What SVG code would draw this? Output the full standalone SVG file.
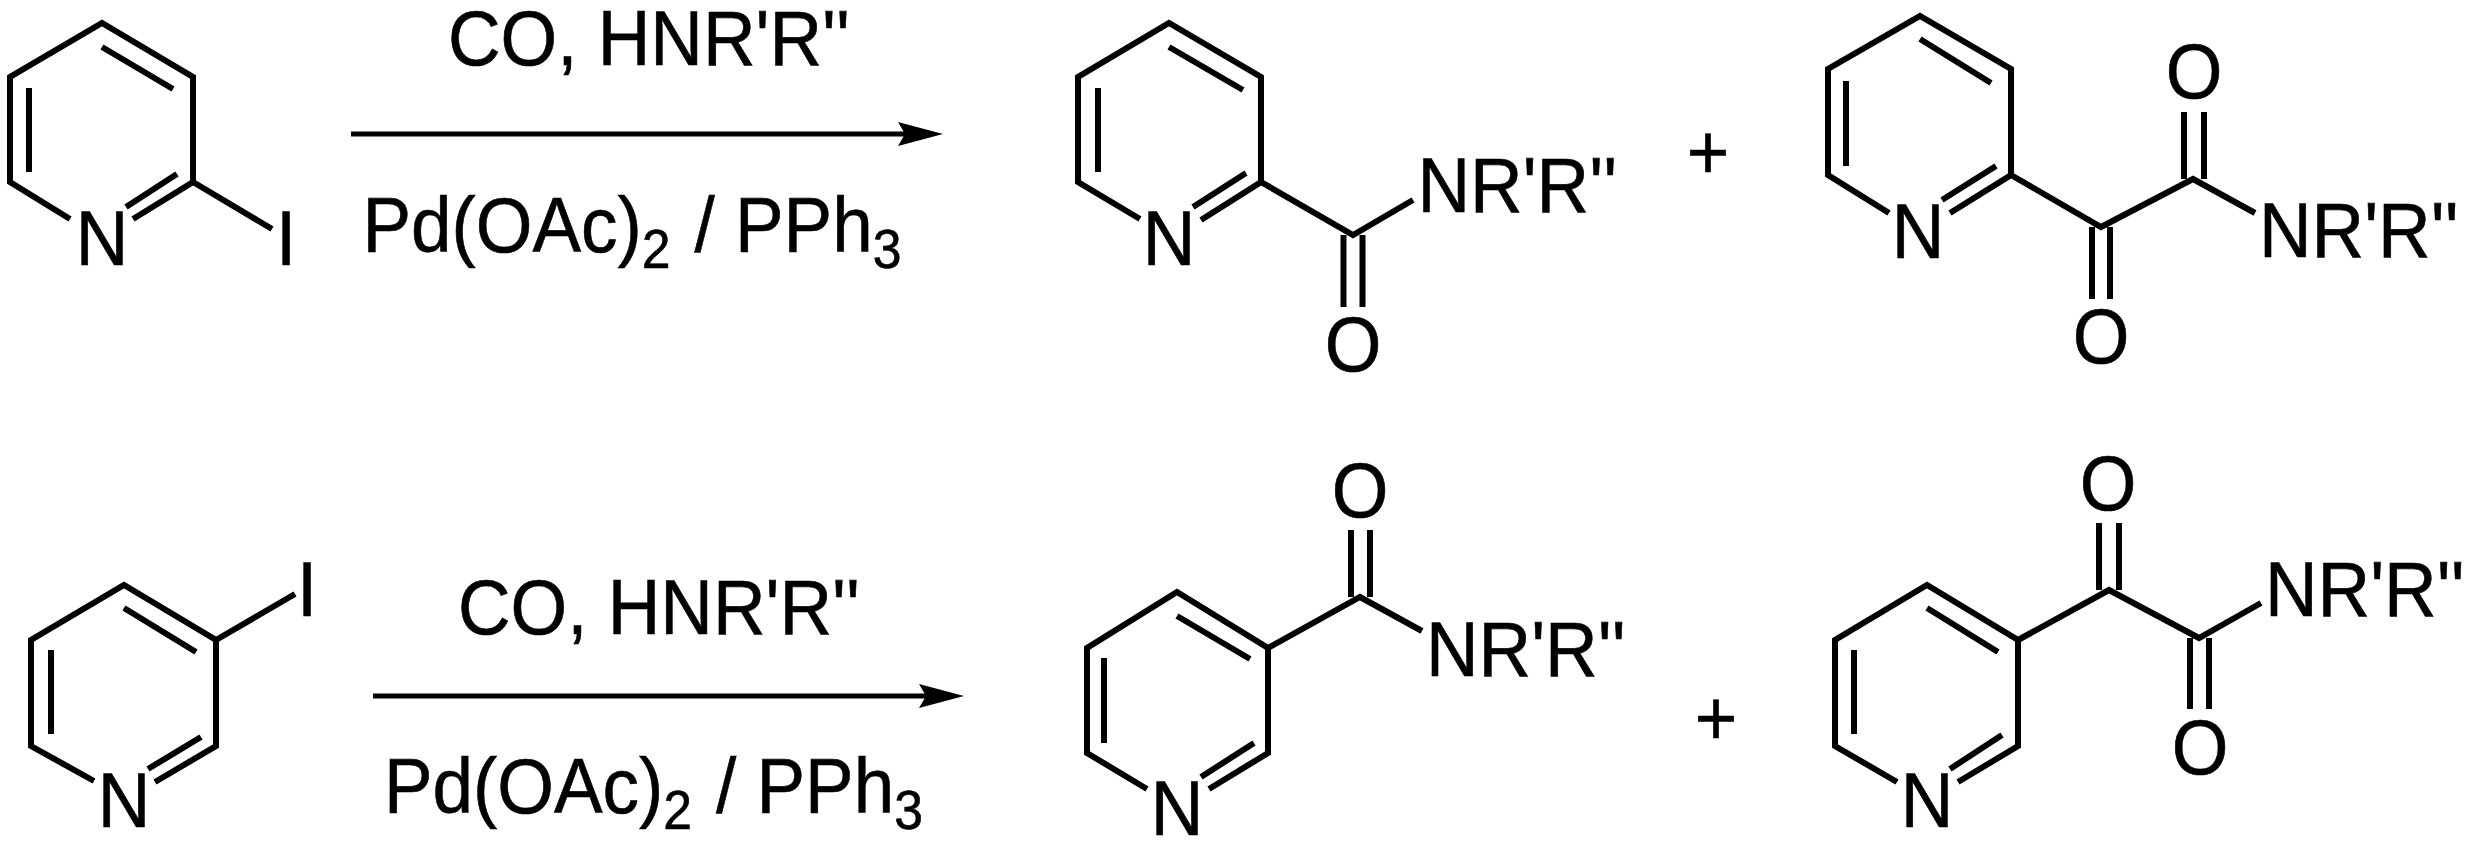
<svg xmlns="http://www.w3.org/2000/svg" width="2468" height="841" viewBox="0 0 2468 841">
<style>
.b{fill:none;stroke:#000;stroke-width:6;stroke-linejoin:miter;stroke-linecap:butt}
.a{fill:none;stroke:#000;stroke-width:5}
.t{font-family:"Liberation Sans",Arial,sans-serif;font-size:77.5px;fill:#000;stroke:#000;stroke-width:.6}
.m{text-anchor:middle}
.s{font-size:55px}
</style>
<defs>
<marker id="ah" markerUnits="userSpaceOnUse" markerWidth="50" markerHeight="30" refX="8" refY="12" orient="auto"><polygon points="0,0 45,12 0,24 7,12" fill="#000"/></marker>
</defs>
<rect width="2468" height="841" fill="#fff"/>
<g id="connectors">
<line class="a" x1="351" y1="134" x2="906" y2="134" marker-end="url(#ah)"/>
<line class="a" x1="373" y1="696" x2="927" y2="696" marker-end="url(#ah)"/>
</g>
<g id="reagents-top">
<text class="t" transform="translate(448,65) scale(.94,1)">CO, HNR'R''</text>
<text class="t" transform="translate(362.5,252) scale(.94,1)">Pd(OAc)<tspan class="s" dy="16">2</tspan><tspan dx="4" dy="-16"> / PPh</tspan><tspan class="s" dy="16">3</tspan></text>
</g>
<g id="reagents-bottom">
<text class="t" transform="translate(458,634) scale(.94,1)">CO, HNR'R''</text>
<text class="t" transform="translate(384,813) scale(.94,1)">Pd(OAc)<tspan class="s" dy="16">2</tspan><tspan dx="4" dy="-16"> / PPh</tspan><tspan class="s" dy="16">3</tspan></text>
</g>
<g id="iodopyridine-2">
<path class="b" d="M70,219L10,182V77L102,23L193,77V182L133,219M29,88V172M102,47L173,89M177,174L126,207M193,182L272,229"/>
<text class="t m" transform="translate(102,265) scale(.94,1)">N</text>
<text class="t m" transform="translate(286,265) scale(.94,1)">I</text>
</g>
<g id="amide-2">
<path class="b" d="M1140,219L1078,182V77L1169,23L1261,77V182L1201,220M1098,88V172M1169,47L1243,90M1246,173L1193,207M1261,182L1353,235L1413,200M1343.5,235V307M1362.5,235V307"/>
<text class="t m" transform="translate(1169,265) scale(.94,1)">N</text>
<text class="t" transform="translate(1417.5,212) scale(.94,1)">NR'R''</text>
<text class="t m" transform="translate(1353,371) scale(.94,1)">O</text>
</g>
<g id="plus-top"><text class="t m" transform="translate(1708,179) scale(.94,1)">+</text></g>
<g id="ketoamide-2">
<path class="b" d="M1889,213L1828,175V69L1920,16L2011,69V175L1950,213M1846,81V166M1920,39L1991,83M1996,166L1942,200M2011,175L2101,227L2193,179L2255,213M2092,227V299M2110,227V299M2184,112V179M2204,112V179"/>
<text class="t m" transform="translate(1918,258) scale(.94,1)">N</text>
<text class="t" transform="translate(2259,257) scale(.94,1)">NR'R''</text>
<text class="t m" transform="translate(2101,363) scale(.94,1)">O</text>
<text class="t m" transform="translate(2194,98) scale(.94,1)">O</text>
</g>
<g id="iodopyridine-3">
<path class="b" d="M94,781L31,746V640L124,585L216,640V746L155,782M51,650V734M124,608L196,652M201,737L148,769M216,640L295,594"/>
<text class="t m" transform="translate(124,827) scale(.94,1)">N</text>
<text class="t m" transform="translate(307,616) scale(.94,1)">I</text>
</g>
<g id="amide-3">
<path class="b" d="M1147,789L1087,753V648L1177,592L1268,648V753L1209,789M1104,658V743M1177,616L1250,659M1254,743L1201,777M1268,648L1360,597L1422,631M1351,530V597M1370,530V597"/>
<text class="t m" transform="translate(1177,835) scale(.94,1)">N</text>
<text class="t" transform="translate(1426,676) scale(.94,1)">NR'R''</text>
<text class="t m" transform="translate(1360,517) scale(.94,1)">O</text>
</g>
<g id="plus-bottom"><text class="t m" transform="translate(1716,745) scale(.94,1)">+</text></g>
<g id="ketoamide-3">
<path class="b" d="M1897,782L1835,746V640L1927,585L2018,640V746L1958,782M1854,650V734M1927,608L1998,652M2002,735L1950,769M2018,640L2109,590L2199,638L2261,603M2099,523V590M2119,523V590M2190,638V709M2209,638V709"/>
<text class="t m" transform="translate(1927,827) scale(.94,1)">N</text>
<text class="t" transform="translate(2265,616) scale(.94,1)">NR'R''</text>
<text class="t m" transform="translate(2108,510) scale(.94,1)">O</text>
<text class="t m" transform="translate(2200,774) scale(.94,1)">O</text>
</g>
</svg>
